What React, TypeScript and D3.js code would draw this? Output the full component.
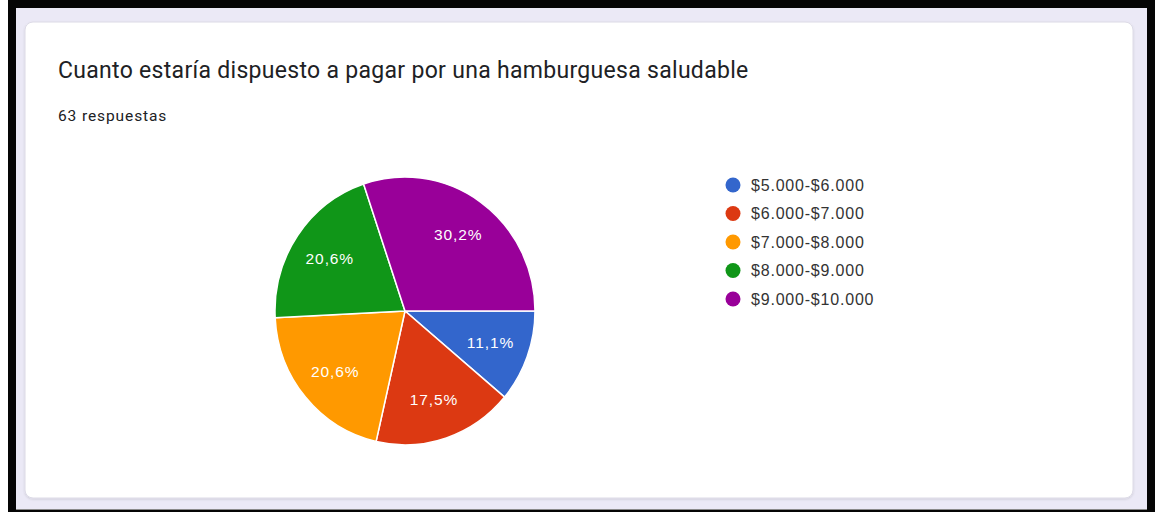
import React from "react";
import * as d3 from "d3";

const title = "Cuanto estaría dispuesto a pagar por una hamburguesa saludable";
const subtitle = "63 respuestas";
const categories = ["$5.000-$6.000", "$6.000-$7.000", "$7.000-$8.000", "$8.000-$9.000", "$9.000-$10.000"];
const counts = [7, 11, 13, 13, 19];
const colors = ["#3366cc", "#dc3912", "#ff9900", "#109618", "#990099"];

export default function App() {
  const W = 1160, H = 512;
  const cx = 405, cy = 311, r = 130;
  const total = d3.sum(counts);
  const pie = d3.pie<number>().sort(null).startAngle(Math.PI / 2).endAngle(Math.PI / 2 + 2 * Math.PI);
  const arcs = pie(counts);
  const arcGen = d3.arc<d3.PieArcDatum<number>>().innerRadius(0).outerRadius(r);
  const labelArc = d3.arc<d3.PieArcDatum<number>>().innerRadius(91).outerRadius(91);
  const fmt = (v: number) => (Math.round((v / total) * 1000) / 10).toFixed(1).replace(".", ",") + "%";
  const legendY = d3.scalePoint<string>().domain(categories).range([185, 299]);
  const sy = 1.03;

  return (
    <svg width={W} height={H} style={{ position: "absolute", left: 0, top: 0, background: "#ffffff" }}>
      <defs>
        <filter id="sh" x="-5%" y="-5%" width="110%" height="110%">
          <feDropShadow dx="0" dy="1" stdDeviation="1" floodColor="#000" floodOpacity="0.12" />
        </filter>
      </defs>
      <rect x={8} y={0} width={1147} height={512} fill="#050505" />
      <rect x={16} y={8} width={1131} height={501} fill="#ebe9f6" />
      <line x1={16} x2={1147} y1={509.5} y2={509.5} stroke="#8a8a8a" strokeWidth={1} />
      <rect x={25} y={22} width={1108} height={476} rx={8} ry={8} fill="#ffffff" stroke="#dcdae6" strokeWidth={1} filter="url(#sh)" />
      <text x={58} y={78} fontFamily="Roboto, Arial, sans-serif" fontSize={23} letterSpacing={0.3} fill="#202124">{title}</text>
      <text x={58} y={121} fontFamily="Roboto, Arial, sans-serif" fontSize={15.5} letterSpacing={0.9} fill="#202124">{subtitle}</text>
      <g transform={`translate(${cx},${cy})`}>
        <g transform={`scale(1,${sy})`}>
          {arcs.map((a, i) => (
            <path key={i} d={arcGen(a) || ""} fill={colors[i]} stroke="#ffffff" strokeWidth={1.5} vectorEffect="non-scaling-stroke" />
          ))}
        </g>
        {arcs.map((a, i) => {
          const [x, y] = labelArc.centroid(a);
          return (
            <text key={"l" + i} x={x} y={y * sy} dy="0.35em" textAnchor="middle" fontFamily="Arial, 'Liberation Sans', sans-serif" fontSize={15.5} letterSpacing={0.9} fill="#ffffff">
              {fmt(a.data)}
            </text>
          );
        })}
      </g>
      <g>
        {categories.map((c, i) => (
          <g key={c} transform={`translate(0,${legendY(c)})`}>
            <circle cx={733} cy={0} r={7.5} fill={colors[i]} />
            <text x={751} y={0} dy="0.35em" fontFamily="Arial, 'Liberation Sans', sans-serif" fontSize={16} letterSpacing={0.8} fill="#333333">{c}</text>
          </g>
        ))}
      </g>
    </svg>
  );
}
